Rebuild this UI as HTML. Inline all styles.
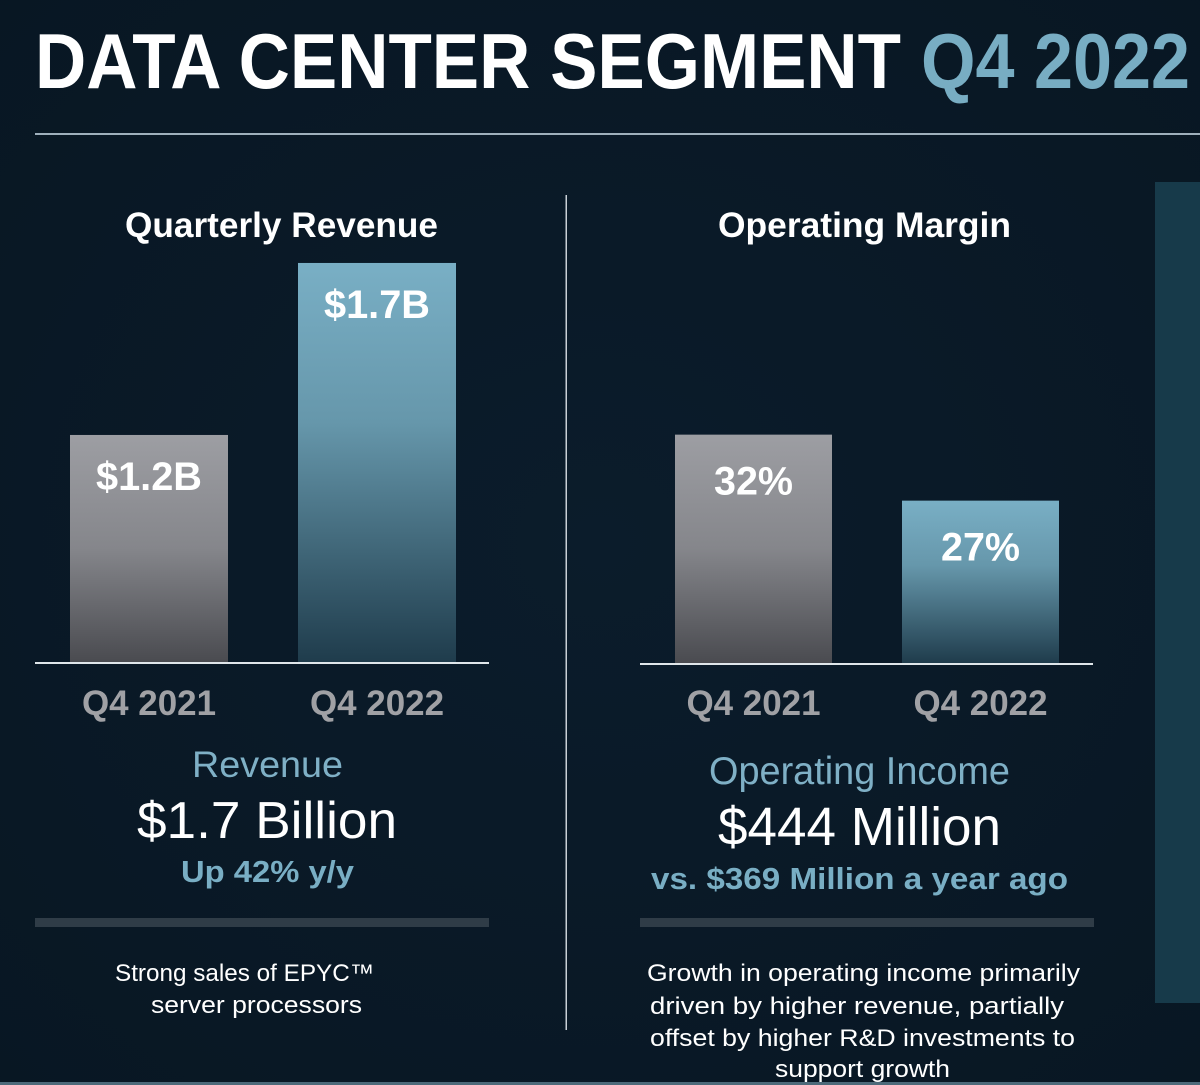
<!DOCTYPE html>
<html><head><meta charset="utf-8"><style>
html,body{margin:0;padding:0;background:#0a1a28;}
svg{display:block;}
text{font-family:"Liberation Sans",Arial,sans-serif;}
</style></head><body>
<svg id="root" width="1200" height="1085" viewBox="0 0 1200 1085">
<defs>
<linearGradient id="gGray" x1="0" y1="0" x2="0" y2="1"><stop offset="0" stop-color="#9d9ea3"/><stop offset="0.5" stop-color="#85868b"/><stop offset="1" stop-color="#4a4b50"/></linearGradient>
<linearGradient id="gBlue" x1="0" y1="0" x2="0" y2="1"><stop offset="0" stop-color="#79afc5"/><stop offset="0.4" stop-color="#6697ab"/><stop offset="1" stop-color="#1f3c4c"/></linearGradient>
<radialGradient id="bg" cx="0.5" cy="0.5" r="0.8"><stop offset="0" stop-color="#0b1c2b"/><stop offset="1" stop-color="#081622"/></radialGradient>
</defs>
<rect width="1200" height="1085" fill="url(#bg)"/>
<rect x="1155" y="182" width="45" height="821" fill="#173a4a"/>
<rect x="0" y="1082" width="1200" height="3" fill="#4d6a7a"/>
<text x="35" y="88" font-size="78" font-weight="bold" fill="#ffffff" textLength="866" lengthAdjust="spacingAndGlyphs">DATA CENTER SEGMENT</text>
<text x="921" y="88" font-size="78" font-weight="bold" fill="#78adc3" textLength="269" lengthAdjust="spacingAndGlyphs">Q4 2022</text>
<rect x="35" y="133" width="1165" height="2" fill="#9fb0bc"/>
<rect x="565.5" y="195" width="1.5" height="835" fill="#c9d0d6"/>

<text x="125" y="237" font-size="35" font-weight="bold" fill="#fff" textLength="313" lengthAdjust="spacingAndGlyphs">Quarterly Revenue</text>
<text x="718" y="237" font-size="35" font-weight="bold" fill="#fff" textLength="293" lengthAdjust="spacingAndGlyphs">Operating Margin</text>
<g id="revChart"></g>
<g id="marChart"></g>

<text x="192" y="777" font-size="37" fill="#7fb0c6" textLength="151" lengthAdjust="spacingAndGlyphs">Revenue</text>
<text x="137" y="838" font-size="52" fill="#fff" textLength="260" lengthAdjust="spacingAndGlyphs">$1.7 Billion</text>
<text x="181" y="882" font-size="31" font-weight="bold" fill="#79aec4" textLength="173" lengthAdjust="spacingAndGlyphs">Up 42% y/y</text>
<rect x="35" y="918" width="454" height="9" fill="#2f3c47"/>
<text x="115" y="981" font-size="24" fill="#fff" textLength="259" lengthAdjust="spacingAndGlyphs">Strong sales of EPYC™</text>
<text x="151" y="1013" font-size="24" fill="#fff" textLength="211" lengthAdjust="spacingAndGlyphs">server processors</text>

<text x="709" y="784" font-size="39" fill="#7fb0c6" textLength="301" lengthAdjust="spacingAndGlyphs">Operating Income</text>
<text x="718" y="845" font-size="54" fill="#fff" textLength="283" lengthAdjust="spacingAndGlyphs">$444 Million</text>
<text x="651" y="889" font-size="31" font-weight="bold" fill="#79aec4" textLength="417" lengthAdjust="spacingAndGlyphs">vs. $369 Million a year ago</text>
<rect x="640" y="918" width="454" height="9" fill="#2f3c47"/>
<g font-size="24" fill="#fff">
<text x="647" y="981" textLength="433" lengthAdjust="spacingAndGlyphs">Growth in operating income primarily</text>
<text x="650" y="1014" textLength="414" lengthAdjust="spacingAndGlyphs">driven by higher revenue, partially</text>
<text x="650" y="1046" textLength="425" lengthAdjust="spacingAndGlyphs">offset by higher R&amp;D investments to</text>
<text x="775" y="1077" textLength="175" lengthAdjust="spacingAndGlyphs">support growth</text>
</g>
</svg>
<script>
const revCategories = ["Q4 2021", "Q4 2022"];
const revValues = [1.2, 1.7];
const revLabels = ["$1.2B", "$1.7B"];
const marCategories = ["Q4 2021", "Q4 2022"];
const marValues = [32, 27];
const marLabels = ["32%", "27%"];
const NS = "http://www.w3.org/2000/svg";
function mk(tag, attrs, parent){const e=document.createElementNS(NS,tag);for(const k in attrs)e.setAttribute(k,attrs[k]);parent.appendChild(e);return e;}
function drawChart(g, cats, vals, labels, cfg){
  const base=cfg.base;
  const y=v=>base-(v-cfg.v0)*cfg.k;
  const axis=mk('rect',{x:cfg.ax0,y:base,width:cfg.ax1-cfg.ax0,height:2,fill:'#dfe6ea'},g);
  
  
  cats.forEach((c,i)=>{
    const x=cfg.x0+i*cfg.step, top=y(vals[i]);
    const b=mk('rect',{x:x,y:top,width:cfg.bw,height:base-top,fill:i===0?'url(#gGray)':'url(#gBlue)'},g);
    
    
    const lw=cfg.lblW;
    const t=mk('text',{x:x+cfg.bw/2-lw/2,y:top+cfg.lblOff,'font-size':40,'font-weight':'bold',fill:'#fff',textLength:lw,lengthAdjust:'spacingAndGlyphs'},g);
    t.textContent=labels[i];
    
    
    const xl=mk('text',{x:x+cfg.bw/2-67,y:715,'font-size':35,'font-weight':'bold',fill:'#a0a1a5',textLength:134,lengthAdjust:'spacingAndGlyphs'},g);
    xl.textContent=c;
    
    
  });
}
drawChart(document.getElementById('revChart'),revCategories,revValues,revLabels,{base:662,v0:0.54,k:344,x0:70,step:228,bw:158,ax0:35,ax1:489,lblOff:55,lblW:106});
drawChart(document.getElementById('marChart'),marCategories,marValues,marLabels,{base:663,v0:14.7,k:13.2,x0:675,step:227,bw:157,ax0:640,ax1:1093,lblOff:60,lblW:79});
</script>
</body></html>
